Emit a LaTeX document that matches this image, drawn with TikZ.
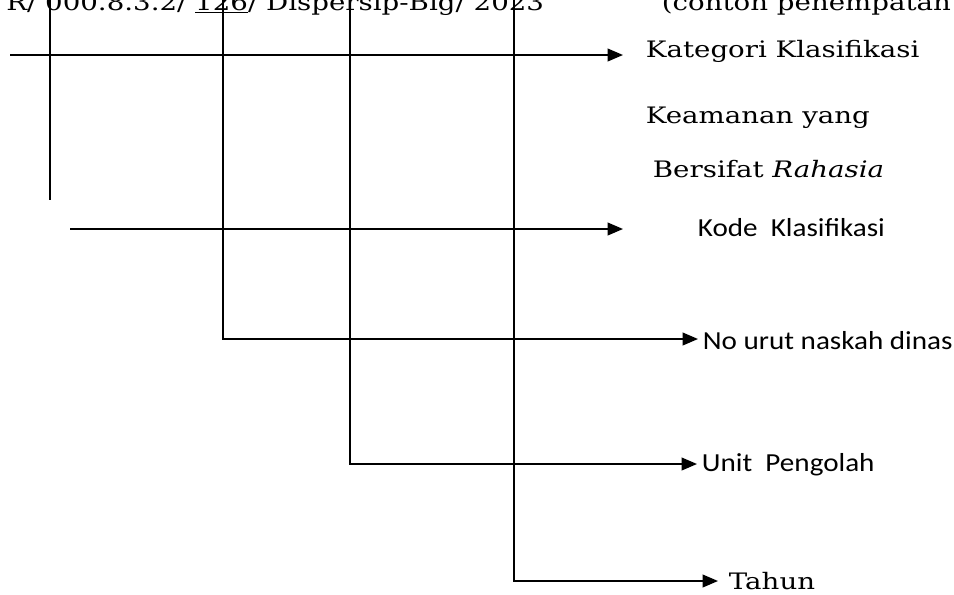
\documentclass[tikz,border=0pt]{standalone}
\usepackage{fontspec}
\setmainfont{DejaVu Serif}[FakeStretch=1.22]
\newfontfamily\carlitofont{Carlito}[FakeStretch=1.12]
\usetikzlibrary{arrows.meta}
\begin{document}
\begin{tikzpicture}[x=0.75pt,y=-0.75pt,line width=1.35pt,
  arr/.style={-{Triangle[length=11.5pt,width=9.5pt]}},
  serif/.style={font=\fontsize{17}{20}\selectfont,inner sep=0pt},
  sans/.style={font=\carlitofont\fontsize{19.5}{22}\selectfont,inner sep=0pt}]
\useasboundingbox (0,0) rectangle (954,594);
\clip (0,0) rectangle (954,594);
% top text
\node[serif,anchor=base east] (num) at (545,10) {R/ 000.8.3.2/ \underline{126}/ Dispersip-Big/ 2023};
\node[serif,anchor=base west] (contoh) at (661,10) {(contoh penempatan};
% labels
\node[serif,anchor=base west] (kat) at (645,57) {Kategori Klasifikasi};
\node[serif,anchor=base west] (kea) at (645,123) {Keamanan yang};
\node[serif,anchor=base west] (ber) at (652,177) {Bersifat \textit{Rahasia}};
\node[sans,anchor=west] (kode) at (697,228) {Kode\ \ Klasifikasi};
\node[sans,anchor=west] (nourut) at (702,341) {No urut naskah dinas};
\node[sans,anchor=west] (unit) at (701,465) {Unit\ \ Pengolah};
\node[serif,anchor=base west] (tahun) at (728,589) {Tahun};
% connector points
\coordinate (v1t) at (50,-5);
\coordinate (v1b) at (50,200);
\coordinate (h1s) at (10,55);
\coordinate (h1e) at (623,55);
\coordinate (h2s) at (70,229);
\coordinate (h2e) at (623,229);
\coordinate (v2t) at (223,-5);
\coordinate (h3e) at (698,339);
\coordinate (v3t) at (350,-5);
\coordinate (h4e) at (697,464);
\coordinate (v4t) at (514,-5);
\coordinate (h5e) at (718,581);
% connectors
\draw (v1t) -- (v1b);
\draw[arr] (h1s) -- (h1e);
\draw[arr] (h2s) -- (h2e);
\draw[arr] (v2t) |- (h3e);
\draw[arr] (v3t) |- (h4e);
\draw[arr] (v4t) |- (h5e);
\end{tikzpicture}
\end{document}
